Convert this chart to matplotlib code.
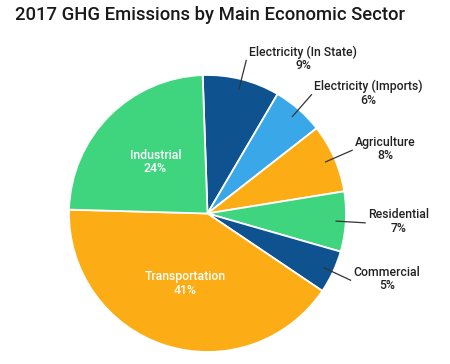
import numpy as np
import matplotlib.pyplot as plt

plt.rcParams['font.family'] = ['Roboto', 'DejaVu Sans']

sectors = ['Electricity (In State)', 'Electricity (Imports)', 'Agriculture',
           'Residential', 'Commercial', 'Transportation', 'Industrial']
shares = [9, 6, 8, 7, 5, 41, 24]
colors = ['#0f5290', '#3aa8e8', '#fcad15', '#3fd47e', '#0f5290', '#fcad15', '#3fd47e']
inside = ['Transportation', 'Industrial']

start = 92

fig = plt.figure(figsize=(4.5, 3.64), dpi=100)
ax = fig.add_axes([0.1533, 0.033, 0.6156, 0.761])

wedges, _ = ax.pie(shares, colors=colors, startangle=start, counterclock=False,
                   radius=1, wedgeprops=dict(edgecolor='white', linewidth=1.3))
ax.set_xlim(-1, 1)
ax.set_ylim(-1, 1)
ax.set_aspect('auto')
ax.axis('off')

for w, name, val in zip(wedges, sectors, shares):
    mid = np.deg2rad((w.theta1 + w.theta2) / 2)
    c, s = np.cos(mid), np.sin(mid)
    txt = f'{name}\n{val}%'
    if name in inside:
        ax.text(0.53 * c, 0.53 * s, txt, ha='center', va='center', color='white',
                fontsize=8.8, fontweight='medium', linespacing=1.05)
    else:
        ax.plot([0.93 * c, 1.14 * c], [0.93 * s, 1.14 * s], color='#333333',
                lw=0.9, clip_on=False)
        ax.text(1.14 * c + 0.02, 1.14 * s + 0.01, txt, ha='left', va='center',
                multialignment='center', color='#222222', fontsize=8.8,
                fontweight='medium', linespacing=1.05)

fig.text(15 / 450, 1 - 15 / 364, '2017 GHG Emissions by Main Economic Sector',
         ha='left', va='center', fontsize=13.3, fontweight='medium', color='#1a1a1a')

fig.savefig('out.png', dpi=100, facecolor='white')
